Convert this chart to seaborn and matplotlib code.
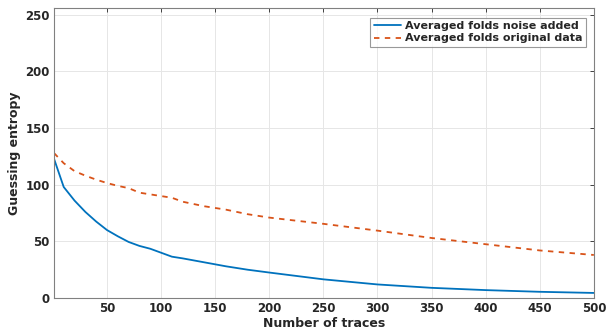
import matplotlib
matplotlib.use("Agg")
import matplotlib.pyplot as plt
import seaborn as sns
import pandas as pd

traces = [1, 10, 20, 30, 40, 50, 60, 70, 80, 90, 100, 110, 120, 140, 160, 180,
          200, 250, 300, 350, 400, 450, 500]
noise_added = [123, 98, 86, 76, 67.5, 60, 54.5, 49.5, 46, 43.5, 40, 36.5, 35,
               31.5, 28, 25, 22.5, 16.5, 12, 9, 7, 5.5, 4.5]
original = [128, 119, 112, 108, 104.5, 101.5, 99, 97, 93, 91.5, 90, 88.5, 85,
            81, 78, 74, 71, 65.5, 59.5, 53, 47.5, 42, 38]
labels = ["Averaged folds noise added", "Averaged folds original data"]

df = pd.concat([
    pd.DataFrame({"traces": traces, "ge": noise_added, "series": labels[0]}),
    pd.DataFrame({"traces": traces, "ge": original, "series": labels[1]}),
])

sns.set_theme(style="whitegrid")
plt.rcParams["font.family"] = ["DejaVu Sans"]

fig = plt.figure(figsize=(6.1, 3.33), dpi=100)
ax = fig.add_axes([0.0885, 0.105, 0.885, 0.871])

sns.lineplot(data=df, x="traces", y="ge", hue="series", style="series",
             palette=["#0072BD", "#D95319"],
             dashes={labels[0]: "", labels[1]: (3, 3)},
             linewidth=1.3, ax=ax)

ax.set_xlim(1, 500)
ax.set_ylim(0, 256)
ax.set_xticks([50, 100, 150, 200, 250, 300, 350, 400, 450, 500])
ax.set_yticks([0, 50, 100, 150, 200, 250])
ax.set_xlabel("Number of traces", fontsize=9, fontweight="bold", labelpad=1, color="#262626")
ax.set_ylabel("Guessing entropy", fontsize=9, fontweight="bold", labelpad=3, color="#262626")
for lab in ax.get_xticklabels() + ax.get_yticklabels():
    lab.set_fontweight("bold")
ax.tick_params(axis="both", labelsize=8.5, colors="#262626", direction="in",
               length=3, width=0.6, top=True, right=True, pad=3,
               labelcolor="#262626")
ax.grid(True, color="#e6e6e6", linewidth=0.7)
for s in ax.spines.values():
    s.set_visible(True)
    s.set_color("#808080")
    s.set_linewidth(0.8)

leg = ax.legend(loc="upper right", fontsize=8, frameon=True, fancybox=False,
                borderpad=0.3, handlelength=2.5, handletextpad=0.3,
                labelspacing=0.2, bbox_to_anchor=(0.995, 0.985))
leg.set_title(None)
for t in leg.get_texts():
    t.set_fontweight("bold")
leg.get_frame().set_edgecolor("#808080")
leg.get_frame().set_linewidth(0.8)

fig.savefig("out.png", dpi=100)
